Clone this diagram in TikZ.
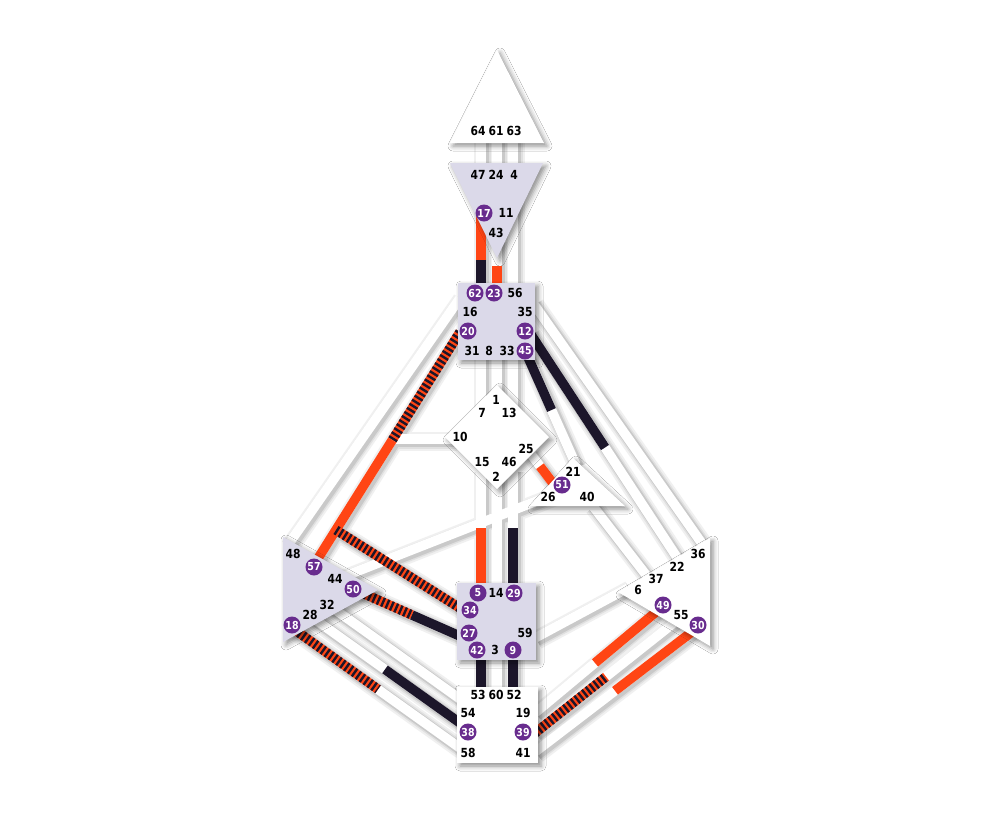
\documentclass[tikz,border=0pt]{standalone}
\usepackage{fontspec}
\usetikzlibrary{shadows.blur}
\newfontfamily\lblf{DejaVu Sans}[FakeStretch=0.86]
\definecolor{dred}{RGB}{255,69,20}
\definecolor{dblk}{RGB}{28,22,42}
\definecolor{lav}{RGB}{219,217,233}
\definecolor{purp}{RGB}{104,44,142}
\newcommand\allchans[1]{%
  \draw[#1] (h1a)--(h1b); \draw[#1] (h2a)--(h2b); \draw[#1] (h3a)--(h3b);
  \draw[#1] (a1a)--(a1b); \draw[#1] (a2a)--(a2b); \draw[#1] (a3a)--(a3b);
  \draw[#1] (t1a)--(t1b); \draw[#1] (t2a)--(t2b); \draw[#1] (t3a)--(t3b);
  \draw[#1] (s1a)--(s1b); \draw[#1] (s2a)--(s2b); \draw[#1] (s3a)--(s3b);
  \draw[#1] (r1a)--(r1b); \draw[#1] (r2a)--(r2b); \draw[#1] (r3a)--(r3b);
  \draw[#1] (c16a)--(c16b); \draw[#1] (c17a)--(c17b); \draw[#1] (c18a)--(c18b);
  \draw[#1] (c21a)--(c21b); \draw[#1] (c19a)--(c19b); \draw[#1] (c20a)--(c20b);
  \draw[#1] (c22a)--(c22b); \draw[#1] (c23a)--(c23b); \draw[#1] (c24a)--(c24b);
  \draw[#1] (c25a)--(c25b); \draw[#1] (c26a)--(c26b); \draw[#1] (c27a)--(c27b);
  \draw[#1] (c28a)--(c28b); \draw[#1] (c29a)--(c29b); \draw[#1] (c30a)--(c30b);
  \draw[#1] (c31a)--(c31b); \draw[#1] (c32a)--(c32b); \draw[#1] (c33a)--(c33b);
}
\newcommand\stripedch[2]{\draw[rch] (#1)--(#2); \draw[stch] (#1)--(#2);}
\begin{document}
\begin{tikzpicture}[x=1pt,y=-1pt,
  wch/.style={line width=9.5pt,draw=white},
  shA/.style={line width=19pt,draw=black!6},
  shB/.style={line width=15pt,draw=black!12},
  shC/.style={line width=12pt,draw=black!21},
  rch/.style={line width=9.5pt,draw=dred},
  bch/.style={line width=9.5pt,draw=dblk},
  stch/.style={line width=9.5pt,draw=dblk,dash pattern=on 2.4pt off 2.4pt},
  ctr/.style={blur shadow={shadow xshift=3pt,shadow yshift=-3pt,shadow blur radius=5pt,shadow opacity=45}},
  lbl/.style={inner sep=0pt,text=black,font=\lblf\bfseries\fontsize{12.5}{13}\selectfont},
  gc/.style={circle,fill=purp,text=white,inner sep=0pt,minimum size=17pt,font=\lblf\bfseries\fontsize{11}{12}\selectfont}]
\useasboundingbox[fill=white] (0,0) rectangle (1000,820);
% ---------- channel coordinates ----------
\coordinate (h1a) at (481,138); \coordinate (h1b) at (481,168);
\coordinate (h2a) at (497,138); \coordinate (h2b) at (497,168);
\coordinate (h3a) at (513,138); \coordinate (h3b) at (513,168);
\coordinate (a1a) at (481,200); \coordinate (a1s) at (481,260); \coordinate (a1b) at (481,287);
\coordinate (a2a) at (497,240); \coordinate (a2s) at (497,266); \coordinate (a2b) at (497,287);
\coordinate (a3a) at (513,200); \coordinate (a3b) at (513,287);
\coordinate (t1a) at (481,356); \coordinate (t1b) at (481,410);
\coordinate (t2a) at (497,356); \coordinate (t2b) at (497,400);
\coordinate (t3a) at (513,356); \coordinate (t3b) at (513,410);
\coordinate (s1a) at (481,470); \coordinate (s1s) at (481,528); \coordinate (s1b) at (481,587);
\coordinate (s2a) at (497,470); \coordinate (s2b) at (497,587);
\coordinate (s3a) at (513,470); \coordinate (s3s) at (513,528); \coordinate (s3b) at (513,587);
\coordinate (r1a) at (481,656); \coordinate (r1b) at (481,690);
\coordinate (r2a) at (497,656); \coordinate (r2b) at (497,690);
\coordinate (r3a) at (513,656); \coordinate (r3b) at (513,690);
\coordinate (c16a) at (460,298); \coordinate (c16b) at (288,545);
\coordinate (c17a) at (460,332); \coordinate (c17s) at (392.3,440); \coordinate (c17b) at (312,568);
\coordinate (c18a) at (392,439); \coordinate (c18b) at (455,439);
\coordinate (c19a) at (336,530); \coordinate (c19b) at (463,610);
\coordinate (c20a) at (360,592); \coordinate (c20s) at (412,615); \coordinate (c20b) at (462,637);
\coordinate (c21a) at (335,580); \coordinate (c21b) at (552,495);
\coordinate (c22a) at (330,606); \coordinate (c22b) at (460,699);
\coordinate (c23a) at (313,618); \coordinate (c23s) at (385,669.4); \coordinate (c23b) at (460,723);
\coordinate (c24a) at (295,630); \coordinate (c24s) at (378,689.3); \coordinate (c24b) at (460,748);
\coordinate (c25a) at (533,303); \coordinate (c25b) at (703,545);
\coordinate (c26a) at (530,333); \coordinate (c26s) at (605,447.5); \coordinate (c26b) at (680,562);
\coordinate (c27a) at (527,355); \coordinate (c27s) at (551.5,410); \coordinate (c27b) at (576,465);
\coordinate (c28a) at (530,453); \coordinate (c28s) at (540,466.2); \coordinate (c28b) at (558,490);
\coordinate (c29a) at (592,505); \coordinate (c29b) at (650,580);
\coordinate (c30a) at (535,638); \coordinate (c30b) at (628,588);
\coordinate (c31a) at (535,713); \coordinate (c31s) at (595,662.9); \coordinate (c31b) at (662,607);
\coordinate (c32a) at (535,733); \coordinate (c32s) at (606,676.7); \coordinate (c32b) at (680,618);
\coordinate (c33a) at (535,752); \coordinate (c33s) at (615,690.8); \coordinate (c33b) at (697,628);
% ---------- channels ----------
\begin{scope}[transform canvas={shift={(2pt,-2pt)}}]
  \allchans{shA}
  \allchans{shB}
  \allchans{shC}
\end{scope}
\allchans{wch}
\draw[rch] (a1a)--(a1s); \draw[bch] (a1s)--(a1b);
\draw[rch] (a2s)--(a2b);
\draw[rch] (s1s)--(s1b);
\draw[bch] (s3s)--(s3b);
\draw[bch] (r1a)--(r1b);
\draw[bch] (r3a)--(r3b);
\stripedch{c17a}{c17s} \draw[rch] (c17s)--(c17b);
\stripedch{c19a}{c19b}
\stripedch{c20a}{c20s} \draw[bch] (c20s)--(c20b);
\draw[bch] (c23s)--(c23b);
\stripedch{c24a}{c24s}
\draw[bch] (c26a)--(c26s);
\draw[bch] (c27a)--(c27s);
\draw[rch] (c28s)--(c28b);
\draw[rch] (c31s)--(c31b);
\stripedch{c32a}{c32s}
\draw[rch] (c33s)--(c33b);
% ---------- centres ----------
\path[ctr,fill=white] (497,50) -- (544,143) -- (450,143) -- cycle;
\path[ctr,fill=lav] (450,163) -- (543,163) -- (497,258) -- cycle;
\path[ctr,fill=lav] (458,283) rectangle (535,360);
\path[ctr,fill=white] (497,385) -- (549,437) -- (497,489) -- (445,437) -- cycle;
\path[ctr,fill=white] (573,458) -- (625,506) -- (530,506) -- cycle;
\path[ctr,fill=lav] (283,537) -- (378,590) -- (283,642) -- cycle;
\path[ctr,fill=lav] (457,583) rectangle (536,660);
\path[ctr,fill=white] (710,538) -- (710,646) -- (618,592) -- cycle;
\path[ctr,fill=white] (457,687) rectangle (538,763);
% ---------- gate labels ----------
% head
\node[lbl] (g64) at (478,131) {64}; \node[lbl] (g61) at (496,131) {61}; \node[lbl] (g63) at (514,131) {63};
% ajna
\node[lbl] (g47) at (478,175) {47}; \node[lbl] (g24) at (496,175) {24}; \node[lbl] (g4) at (514,175) {4};
\node[gc] (g17) at (484,213) {17}; \node[lbl] (g11) at (506,213) {11}; \node[lbl] (g43) at (496,233) {43};
% throat
\node[gc] (g62) at (475,293) {62}; \node[gc] (g23) at (494,293) {23}; \node[lbl] (g56) at (515,293) {56};
\node[lbl] (g16) at (470,312) {16}; \node[lbl] (g35) at (525,312) {35};
\node[gc] (g20) at (468,331) {20}; \node[gc] (g12) at (525,331) {12};
\node[lbl] (g31) at (472,351) {31}; \node[lbl] (g8) at (489,351) {8}; \node[lbl] (g33) at (507,351) {33}; \node[gc] (g45) at (525,351) {45};
% G
\node[lbl] (g1) at (496,400) {1}; \node[lbl] (g7) at (482,413) {7}; \node[lbl] (g13) at (509,413) {13};
\node[lbl] (g10) at (460,437) {10}; \node[lbl] (g25) at (526,449) {25};
\node[lbl] (g15) at (482,462) {15}; \node[lbl] (g46) at (509,462) {46}; \node[lbl] (g2) at (496,477) {2};
% heart
\node[lbl] (g21) at (573,472) {21}; \node[gc] (g51) at (562,485) {51};
\node[lbl] (g26) at (548,497) {26}; \node[lbl] (g40) at (587,497) {40};
% spleen
\node[lbl] (g48) at (293,554) {48}; \node[gc] (g57) at (314,567) {57}; \node[lbl] (g44) at (335,579) {44};
\node[gc] (g50) at (353,589) {50}; \node[lbl] (g32) at (327,605) {32}; \node[lbl] (g28) at (310,615) {28};
\node[gc] (g18) at (292,625) {18};
% sacral
\node[gc] (g5) at (478,593) {5}; \node[lbl] (g14) at (496,593) {14}; \node[gc] (g29) at (514,593) {29};
\node[gc] (g34) at (470,610) {34};
\node[gc] (g27) at (469,633) {27}; \node[lbl] (g59) at (525,633) {59};
\node[gc] (g42) at (477,650) {42}; \node[lbl] (g3) at (495,650) {3}; \node[gc] (g9) at (513,650) {9};
% solar plexus
\node[lbl] (g36) at (698,554) {36}; \node[lbl] (g22) at (677,567) {22}; \node[lbl] (g37) at (656,579) {37};
\node[lbl] (g6) at (638,590) {6}; \node[gc] (g49) at (663,605) {49}; \node[lbl] (g55) at (681,615) {55};
\node[gc] (g30) at (698,625) {30};
% root
\node[lbl] (g53) at (478,695) {53}; \node[lbl] (g60) at (496,695) {60}; \node[lbl] (g52) at (514,695) {52};
\node[lbl] (g54) at (468,713) {54}; \node[lbl] (g19) at (523,713) {19};
\node[gc] (g38) at (468,732) {38}; \node[gc] (g39) at (523,732) {39};
\node[lbl] (g58) at (468,753) {58}; \node[lbl] (g41) at (523,753) {41};
\end{tikzpicture}
\end{document}
